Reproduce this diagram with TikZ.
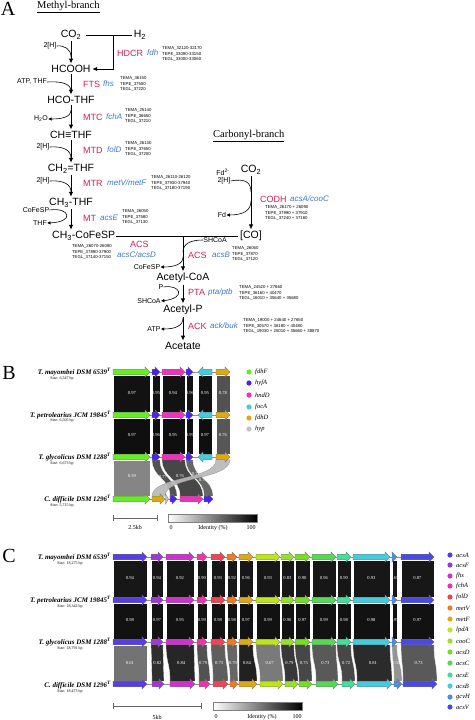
\documentclass[tikz,border=0pt]{standalone}
\usepackage{fontspec}
\setmainfont{Liberation Serif}
\setsansfont{Liberation Sans}
\usetikzlibrary{arrows.meta}

\definecolor{enz}{HTML}{D42050}
\definecolor{gen}{HTML}{3A78C8}
% panel B colours
\definecolor{bA}{HTML}{66EE22}
\definecolor{bB}{HTML}{4A22E8}
\definecolor{bC}{HTML}{EE33BB}
\definecolor{bD}{HTML}{44CCDD}
\definecolor{bE}{HTML}{DDAA11}
\definecolor{bF}{HTML}{C0C0CC}
% panel C colours
\definecolor{gca}{HTML}{5A3DE0}
\definecolor{gcb}{HTML}{9A3AD0}
\definecolor{gcc}{HTML}{CC33CC}
\definecolor{gcd}{HTML}{EE33AA}
\definecolor{gce}{HTML}{EE4455}
\definecolor{gcf}{HTML}{F07A22}
\definecolor{gcg}{HTML}{DDA817}
\definecolor{gch}{HTML}{BDE61A}
\definecolor{gci}{HTML}{99E02A}
\definecolor{gcj}{HTML}{77DD22}
\definecolor{gck}{HTML}{55D855}
\definecolor{gcl}{HTML}{44DD99}
\definecolor{gcm}{HTML}{44CCDD}
\definecolor{gcn}{HTML}{4A8EE0}
\definecolor{gco}{HTML}{4A4AE0}

\newcommand{\geneR}[4]{\filldraw[fill=#4,draw=black!55,line width=0.25pt] (#1,{#3-2.8}) -- ({max(#1,#2-5)},{#3-2.8}) -- ({max(#1,#2-5)},{#3-5.2}) -- (#2,#3) -- ({max(#1,#2-5)},{#3+5.2}) -- ({max(#1,#2-5)},{#3+2.8}) -- (#1,{#3+2.8}) -- cycle;}
\newcommand{\geneL}[4]{\filldraw[fill=#4,draw=black!55,line width=0.25pt] (#2,{#3-2.8}) -- ({min(#2,#1+5)},{#3-2.8}) -- ({min(#2,#1+5)},{#3-5.2}) -- (#1,#3) -- ({min(#2,#1+5)},{#3+5.2}) -- ({min(#2,#1+5)},{#3+2.8}) -- (#2,{#3+2.8}) -- cycle;}
\newcommand{\ribb}[7]{\fill[#7,draw=white,line width=0.3pt] (#1,{#3+2.8}) -- (#2,{#3+2.8}) .. controls (#2,{(#3+#6)/2}) and (#5,{(#3+#6)/2}) .. (#5,{#6-2.8}) -- (#4,{#6-2.8}) .. controls (#4,{(#3+#6)/2}) and (#1,{(#3+#6)/2}) .. (#1,{#3+2.8}) -- cycle;}

\tikzset{
 cmp/.style={font=\sffamily\fontsize{10.5}{12}\selectfont, inner sep=0pt},
 sm/.style={font=\sffamily\fontsize{7}{8}\selectfont, inner sep=0pt},
 enzl/.style={font=\sffamily\fontsize{9}{10}\selectfont, text=enz, inner sep=0pt, anchor=west},
 genl/.style={font=\sffamily\itshape\fontsize{8}{9}\selectfont, text=gen, inner sep=0pt, anchor=west},
 tag/.style={font=\sffamily\fontsize{4.3}{5.5}\selectfont, inner sep=0pt, anchor=west, align=left},
 rx/.style={line width=0.9pt, -{Latex[length=5pt,width=4.5pt]}, shorten <=1.5pt, shorten >=1.5pt},
 sd/.style={line width=0.6pt},
 sdarr/.style={line width=0.6pt, -{Latex[length=3.5pt,width=3.5pt]}},
 brl/.style={font=\fontsize{10.5}{12}\selectfont, inner sep=0pt, anchor=west},
 pl/.style={font=\fontsize{20}{20}\selectfont, inner sep=0pt},
 idl/.style={font=\fontsize{4.6}{5}\selectfont, text=white, inner sep=0pt},
 spl/.style={font=\bfseries\itshape\fontsize{7}{8}\selectfont, anchor=east, inner sep=0pt},
 szl/.style={font=\fontsize{4}{5}\selectfont, inner sep=0pt},
 legt/.style={font=\itshape\fontsize{6.5}{7}\selectfont, anchor=west, inner sep=0pt},
 scl/.style={font=\fontsize{6}{7}\selectfont, inner sep=0pt},
 bbone/.style={draw=black!45, line width=0.4pt},
}

\begin{document}
\begin{tikzpicture}[x=1pt,y=-1pt]
\useasboundingbox (0,0) rectangle (474,720);

% ================= Panel A =================
\node[pl] (pA) at (8,9) {A};
\node[brl] (mb) at (37,7) {\underline{Methyl-branch}};
\node[brl] (cb) at (213,136) {\underline{Carbonyl-branch}};

\node[cmp] (co2) at (71,35) {CO\textsubscript{2}};
\node[cmp] (h2) at (140,35) {H\textsubscript{2}};
\node[cmp] (hcooh) at (71,69) {HCOOH};
\node[cmp] (hcothf) at (71,100) {HCO-THF};
\node[cmp] (chthf) at (71,135) {CH≡THF};
\node[cmp] (ch2thf) at (71,169) {CH\textsubscript{2}=THF};
\node[cmp] (ch3thf) at (71,203) {CH\textsubscript{3}-THF};
\node[cmp, anchor=west] (ch3co) at (52,236) {CH\textsubscript{3}-CoFeSP};
\node[cmp] (co) at (251,236) {[CO]};
\node[cmp] (co2b) at (251,170) {CO\textsubscript{2}};
\node[cmp] (acoa) at (183,278) {Acetyl-CoA};
\node[cmp] (acp) at (183,310) {Acetyl-P};
\node[cmp] (ac) at (183,346) {Acetate};

\draw[rx] (co2) -- (hcooh);
\draw[rx] (hcooh) -- (hcothf);
\draw[rx] (hcothf) -- (chthf);
\draw[rx] (chthf) -- (ch2thf);
\draw[rx] (ch2thf) -- (ch3thf);
\draw[rx] (ch3thf) -- (ch3thf |- ch3co.north);
\draw[sd, shorten <=5pt, shorten >=2pt] (co2) -- (h2);
\coordinate (j1) at (113,35);
\draw[rx, shorten <=0pt] (j1) |- (hcooh.east);
\draw[sd, shorten <=1pt, shorten >=2pt] (ch3co.east) -- (co.west);
\coordinate (j2) at (183,236);
\draw[rx, shorten <=0pt] (j2) -- (acoa.north);
\draw[rx] (acoa) -- (acp);
\draw[rx] (acp) -- (ac);
\draw[rx] (co2b) -- (co);

% side substrates, methyl branch
\node[sm] (h1) at (50,46) {2[H]};
\draw[sd] (h1.east) .. controls (64,45) and (71,49) .. (71,57);
\node[sm] (atp) at (32,82) {ATP, THF};
\draw[sd] (atp.east) .. controls (62,81) and (71,84) .. (71,91);
\node[sm] (h2o) at (41,119) {H\textsubscript{2}O};
\draw[sdarr] (71,110) .. controls (71,117) and (62,119) .. (h2o.east);
\node[sm] (h3) at (43,147) {2[H]};
\draw[sd] (h3.east) .. controls (63,146) and (71,150) .. (71,158);
\node[sm] (h4) at (43,181) {2[H]};
\draw[sd] (h4.east) .. controls (63,180) and (71,184) .. (71,192);
\node[sm] (cfs1) at (36,210) {CoFeSP};
\node[sm] (thf1) at (40,223) {THF};
\draw[sdarr] (cfs1.east) .. controls (70,207) and (75,222) .. (thf1.east);

% carbonyl branch side substrates
\node[sm] (fd2) at (223,172) {Fd\textsuperscript{2-}};
\node[sm] (h5) at (224,181) {2[H]};
\draw[sd] (h5.east) .. controls (246,178) and (251,183) .. (251,192);
\node[sm] (fd) at (222,215) {Fd};
\draw[sdarr] (251,201) .. controls (251,210) and (244,215) .. (fd.east);

% acetyl part
\node[sm] (shc1) at (215,240) {SHCoA};
\draw[sd] (shc1.west) .. controls (190,240) and (183,244) .. (183,252);
\node[sm] (cfs2) at (147,267) {CoFeSP};
\draw[sdarr] (183,257) .. controls (183,264) and (175,267) .. (cfs2.east);
\node[sm] (p1) at (161,287) {P};
\node[sm] (shc2) at (149,301) {SHCoA};
\draw[sdarr] (p1.east) .. controls (180,284) and (187,298) .. (shc2.east);
\node[sm] (atp2) at (154,329) {ATP};
\draw[sdarr] (183,318) .. controls (183,326) and (175,329) .. (atp2.east);

% enzymes, genes, locus tags
\node[enzl] (e1) at (117,53) {HDCR};
\node[genl] (g1) at (147,53) {fdh};
\node[tag] (t1) at (162,54) {TEMA\_32120-32170\\TEPE\_33090-33150\\TEGL\_33000-33060};
\node[enzl] (e2) at (83,84) {FTS};
\node[genl] (g2) at (103,84) {fhs};
\node[tag] (t2) at (120,84) {TEMA\_36150\\TEPE\_37500\\TEGL\_37220};
\node[enzl] (e3) at (83,117) {MTC};
\node[genl] (g3) at (106,117) {fchA};
\node[tag] (t3) at (125,116) {TEMA\_25140\\TEPE\_36650\\TEGL\_37210};
\node[enzl] (e4) at (83,150) {MTD};
\node[genl] (g4) at (107,150) {folD};
\node[tag] (t4) at (125,149) {TEMA\_26130\\TEPE\_37650\\TEGL\_37200};
\node[enzl] (e5) at (83,183) {MTR};
\node[genl] (g5) at (107,183) {metV/metF};
\node[tag] (t5) at (151,183) {TEMA\_26110-26120\\TEPE\_37930-37940\\TEGL\_37180-37190};
\node[enzl] (e6) at (83,218) {MT};
\node[genl] (g6) at (100,218) {acsE};
\node[tag] (t6) at (122,217) {TEMA\_26050\\TEPE\_37580\\TEGL\_37130};
\node[enzl] (e7) at (130,244) {ACS};
\node[genl] (g7) at (117,255) {acsC/acsD};
\node[tag, anchor=east] (t7) at (112,252) {TEMA\_26070-26080\\TEPE\_37890-37900\\TEGL\_37140-37150};
\node[enzl] (e8) at (188,255) {ACS};
\node[genl] (g8) at (212,255) {acsB};
\node[tag] (t8) at (232,254) {TEMA\_26060\\TEPE\_37870\\TEGL\_37120};
\node[enzl] (e9) at (260,199) {CODH};
\node[genl] (g9) at (290,199) {acsA/cooC};
\node[tag] (t9) at (265,213) {TEMA\_26170 + 26090\\TEPE\_37990 + 37910\\TEGL\_37240 + 37160};
\node[enzl] (e10) at (188,292) {PTA};
\node[genl] (g10) at (208,292) {pta/ptb};
\node[tag] (t10) at (239,293) {TEMA\_24520 + 27660\\TEPE\_36160 + 40470\\TEGL\_16010 + 35640 + 35680};
\node[enzl] (e11) at (188,326) {ACK};
\node[genl] (g11) at (210,326) {ack/buk};
\node[tag] (t11) at (243,326) {TEMA\_19000 + 24640 + 27650\\TEPE\_30570 + 36180 + 40480\\TEGL\_19030 + 25010 + 35660 + 38870};

% ================= Panel B =================
\node[pl] (pB) at (9,373) {B};
\node[spl] (sb1) at (111,372) {T. mayombei DSM 6539\textsuperscript{T}};
\node[szl] (zb1) at (62,379) {Size: 6,547 bp};
\node[spl] (sb2) at (111,415) {T. petrolearius JCM 19845\textsuperscript{T}};
\node[szl] (zb2) at (62,421) {Size: 6,505 bp};
\node[spl] (sb3) at (111,457) {T. glycolicus DSM 1288\textsuperscript{T}};
\node[szl] (zb3) at (62,464) {Size: 6,673 bp};
\node[spl] (sb4) at (111,499) {C. difficile DSM 1296\textsuperscript{T}};
\node[szl] (zb4) at (62,506) {Size: 5,715 bp};

% ribbons rows 1-2 and 2-3
\foreach \ya/\yb/\sa/\sb in {372/415/93/68, 415/457/94/66}{
  \ribb{113}{150}{\ya}{113}{150}{\yb}{black!\sa}
  \ribb{152}{160}{\ya}{152}{160}{\yb}{black!\sa}
  \ribb{162}{185}{\ya}{162}{185}{\yb}{black!\sa}
  \ribb{186}{193}{\ya}{186}{193}{\yb}{black!\sa}
  \ribb{198}{212}{\ya}{198}{212}{\yb}{black!\sa}
  \ribb{216}{230}{\ya}{216}{230}{\yb}{black!\sb}
}
% ribbons rows 3-4
\ribb{113}{150}{457}{113}{150}{499}{black!48}
\ribb{152}{160}{457}{170}{177}{499}{black!68}
\ribb{162}{185}{457}{180}{203}{499}{black!72}
\ribb{186}{193}{457}{204}{213}{499}{black!60}
\fill[black!28, draw=black!45, line width=0.3pt, opacity=0.92] (216,459.8) -- (230,459.8) .. controls (230,480) and (165,476) .. (165,496.2) -- (152,496.2) .. controls (152,476) and (216,480) .. (216,459.8) -- cycle;

% identity labels B
\foreach \x/\t in {132/0.97, 156/0.95, 173/0.94, 190/0.96, 205/0.95, 223/0.78}{\node[idl] at (\x,393) {\t};}
\foreach \x/\t in {132/0.97, 156/0.96, 173/0.95, 190/0.97, 205/0.97, 223/0.76}{\node[idl] at (\x,435) {\t};}
\node[idl] at (132,476) {0.59};
\node[idl] at (163,477) {0.77};
\node[idl] at (180,476) {0.76};
\node[idl] at (196,474) {0.71};
\node[idl] at (203,480) {0.73};

% gene arrows B
\foreach \y in {372,415,457}{
  \draw[bbone] (113,\y) -- (230,\y);
  \geneR{113}{150}{\y}{bA}
  \geneR{152}{160}{\y}{bB}
  \geneR{162}{185}{\y}{bC}
  \geneR{186}{193}{\y}{bB}
  \geneL{198}{212}{\y}{bD}
  \geneR{216}{230}{\y}{bE}
}
\draw[bbone] (113,499) -- (213,499);
\geneR{113}{150}{499}{bA}
\geneR{152}{165}{499}{bE}
\geneR{165.5}{168.5}{499}{bF}
\geneR{170}{177}{499}{bB}
\geneR{180}{203}{499}{bC}
\geneR{204}{213}{499}{bB}

% legend B
\foreach \y/\c/\t in {372/bA/fdhF, 383/bB/hyfA, 395/bC/hndD, 407/bD/focA, 418/bE/fdhD, 429/bF/hyp}{
  \fill[\c] (249,\y) circle (2.6);
  \node[legt] at (255,\y) {\t};
}

% scale B
\draw[black!60, line width=0.5pt] (113,518) -- (157,518);
\draw[black!60, line width=0.5pt] (113,515) -- (113,521);
\draw[black!60, line width=0.5pt] (157,515) -- (157,521);
\node[scl] (kb1) at (135,527) {2.5kb};
\shade[left color=white, right color=black, draw=black!50, line width=0.3pt] (168,514) rectangle (257,522);
\node[scl] (id0) at (171,528) {0};
\node[scl] (idt) at (213,528) {Identity (\%)};
\node[scl] (id1) at (251,528) {100};

% ================= Panel C =================
\node[pl] (pC) at (9,556) {C};
\node[spl] (sc1) at (111,557) {T. mayombei DSM 6539\textsuperscript{T}};
\node[szl] (zc1) at (70,564) {Size: 18,275 bp};
\node[spl] (sc2) at (111,600) {T. petrolearius JCM 19845\textsuperscript{T}};
\node[szl] (zc2) at (70,607) {Size: 18,342 bp};
\node[spl] (sc3) at (111,642) {T. glycolicus DSM 1288\textsuperscript{T}};
\node[szl] (zc3) at (70,649) {Size: 18,791 bp};
\node[spl] (sc4) at (111,685) {C. difficile DSM 1296\textsuperscript{T}};
\node[szl] (zc4) at (70,692) {Size: 18,473 bp};

\foreach \xa/\xb/\xc/\xd/\col/\sh/\la/\lb/\lc in {
 113/147/113/147/gca/55/0.94/0.98/0.61,
 151/163/152/164/gcb/82/0.94/0.97/0.82,
 166/194/170/195/gcc/85/0.92/0.95/0.84,
 197/207/199/210/gcd/68/0.90/0.99/0.79,
 211/225/213/228/gce/63/0.93/0.98/0.73,
 227/237/230/238/gcf/60/0.92/0.98/0.70,
 239/253/239/257/gcg/87/0.96/0.97/0.84,
 256/280/260/283/gch/52/0.93/0.99/0.67,
 281/294/285/298/gci/78/0.83/0.96/0.79,
 295/310/299/312/gcj/72/0.90/0.97/0.75,
 312/336/316/338/gck/65/0.96/0.99/0.73,
 337/351/342/355/gcl/72/0.90/0.98/0.72,
 353/390/357/392/gcm/83/0.93/0.98/0.81,
 392/397/394/402/gcn/42/0.65/0.95/0.55,
 401/434/403/437/gco/65/0.87/0.97/0.73}{
  \ribb{\xa}{\xb}{557}{\xa}{\xb}{600}{black!91}
  \ribb{\xa}{\xb}{600}{\xa}{\xb}{642}{black!93}
  \ribb{\xa}{\xb}{642}{\xc}{\xd}{684}{black!\sh}
  \node[idl] at ({(\xa+\xb)/2},578) {\la};
  \node[idl] at ({(\xa+\xb)/2},620) {\lb};
  \node[idl] at ({(\xa+\xb+\xc+\xd)/4},663) {\lc};
}
\foreach \y in {557,600,642}{\draw[bbone] (113,\y) -- (434,\y);}
\draw[bbone] (113,684) -- (437,684);
\foreach \xa/\xb/\xc/\xd/\col in {
 113/147/113/147/gca, 151/163/152/164/gcb, 166/194/170/195/gcc,
 197/207/199/210/gcd, 211/225/213/228/gce, 227/237/230/238/gcf,
 239/253/239/257/gcg, 256/280/260/283/gch, 281/294/285/298/gci,
 295/310/299/312/gcj, 312/336/316/338/gck, 337/351/342/355/gcl,
 353/390/357/392/gcm, 392/397/394/402/gcn, 401/434/403/437/gco}{
  \geneR{\xa}{\xb}{557}{\col}
  \geneR{\xa}{\xb}{600}{\col}
  \geneR{\xa}{\xb}{642}{\col}
  \geneR{\xc}{\xd}{684}{\col}
}

% legend C
\foreach \y/\c/\t in {555/gca/acsA, 565/gcb/acsF, 576/gcc/fhs, 586/gcd/fchA, 597/gce/folD, 608/gcf/metV, 619/gcg/metF, 630/gch/lpdA, 641/gci/cooC, 652/gcj/acsD, 663/gck/acsC, 675/gcl/acsE, 686/gcm/acsB, 697/gcn/gcvH, 707/gco/acsV}{
  \fill[\c] (450,\y) circle (2.6);
  \node[legt] at (456,\y) {\t};
}

% scale C
\draw[black!60, line width=0.5pt] (113,706) -- (201,706);
\draw[black!60, line width=0.5pt] (113,703) -- (113,709);
\draw[black!60, line width=0.5pt] (201,703) -- (201,709);
\node[scl] (kb2) at (157,717) {5kb};
\shade[left color=white, right color=black, draw=black!50, line width=0.3pt] (213,702) rectangle (302,710);
\node[scl] (id2) at (216,717) {0};
\node[scl] (idt2) at (262,717) {Identity (\%)};
\node[scl] (id3) at (297,717) {100};

\end{tikzpicture}
\end{document}
